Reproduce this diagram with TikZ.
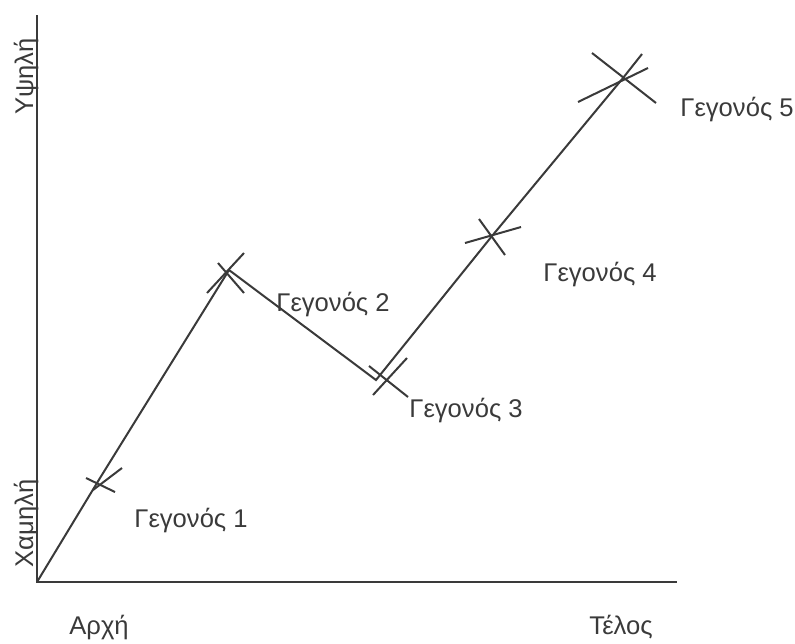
\documentclass[tikz,border=0pt]{standalone}
\usepackage{fontspec}
\setmainfont{Liberation Sans}
\usepackage{tikz}
\usetikzlibrary{positioning}
\definecolor{ink}{HTML}{3A3A3A}

\begin{document}
\begin{tikzpicture}[x=0.5pt, y=-0.5pt,
  axis/.style={draw=ink, line width=1.3pt},
  trend/.style={draw=ink, line width=1pt},
  tickmark/.style={draw=ink, line width=1pt},
  label/.style={text=ink, font=\fontsize{12.8}{15}\selectfont, inner sep=0pt, anchor=base west},
  level/.style={label, rotate=90},
]
  \useasboundingbox (0,0) rectangle (795,643);

  \coordinate (origin) at (37,582);
  \coordinate (ytop) at (37,15);
  \coordinate (xend) at (677,582);
  \coordinate (ev1) at (100,478);
  \coordinate (ev2) at (229,270);
  \coordinate (ev3) at (376,380);
  \coordinate (ev4) at (492,236);
  \coordinate (ev5) at (623,78);
  \coordinate (tip) at (642,54);

  \draw[axis] (ytop) -- (origin) -- (xend);
  \draw[trend] (origin) -- (ev1) -- (ev2) -- (ev3) -- (ev4) -- (ev5) -- (tip);

  \draw[tickmark] (ev1) ++(-14,0) -- ++(29,14);
  \draw[tickmark] (ev1) ++(-7,12) -- ++(29,-22);
  \draw[tickmark] (ev2) ++(-11,-7) -- ++(26,30);
  \draw[tickmark] (ev2) ++(15,-17) -- ++(-37,40);
  \draw[tickmark] (ev3) ++(-7,-14) -- ++(39,31);
  \draw[tickmark] (ev3) ++(31,-22) -- ++(-34,37);
  \draw[tickmark] (ev4) ++(-27,7) -- ++(56,-16);
  \draw[tickmark] (ev4) ++(-13,-17) -- ++(26,36);
  \draw[tickmark] (ev5) ++(-31,-25) -- ++(64,50);
  \draw[tickmark] (ev5) ++(-45,24) -- ++(70,-34);

  \node[label] (lab1) at (134,527) {Γεγονός 1};
  \node[label] (lab2) at (276,311) {Γεγονός 2};
  \node[label] (lab3) at (409,417) {Γεγονός 3};
  \node[label] (lab4) at (543,281) {Γεγονός 4};
  \node[label] (lab5) at (680,116) {Γεγονός 5};

  \node[label] (begin) at (69,634) {Αρχή};
  \node[label] (finish) at (589,634) {Τέλος};
  \node[level] (low) at (33,568) {Χαμηλή};
  \node[level] (high) at (33,115) {Υψηλή};
\end{tikzpicture}
\end{document}
